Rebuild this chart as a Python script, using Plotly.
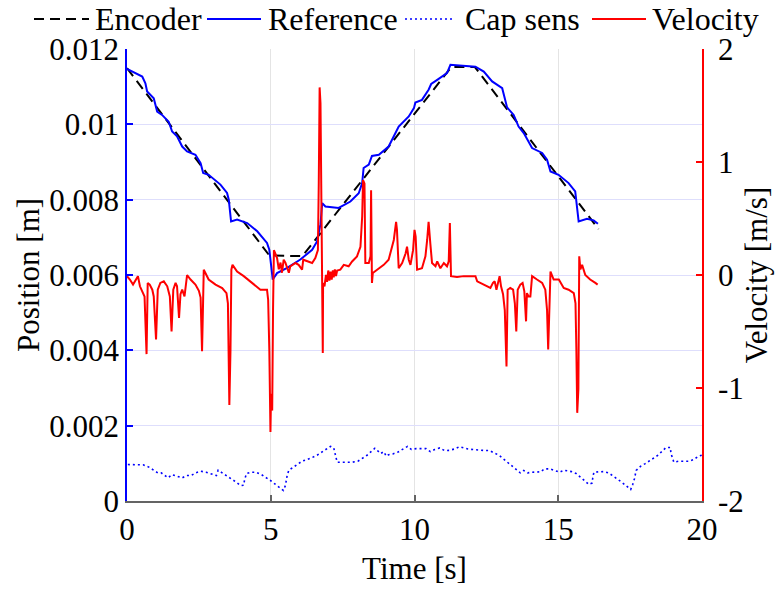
import plotly.graph_objects as go

# ---- Encoder position (breakpoints of the commanded profile) ----
enc_t = [0.0, 4.95, 6.10, 11.28, 12.10, 16.40]
enc_pos = [11.49e-3, 6.52e-3, 6.50e-3, 11.52e-3, 11.52e-3, 7.22e-3]

# ---- Reference position ----
ref_t = [0.00, 0.30, 0.53, 0.64, 0.70, 0.93, 1.05, 1.22, 1.45, 1.57, 1.74, 1.92,
         2.09, 2.38, 2.56, 2.65, 2.84, 3.25, 3.48, 3.54, 3.62, 3.83, 4.18, 4.53,
         4.87, 4.95, 5.07, 5.22, 5.57, 6.03, 6.44, 6.61, 6.69, 6.73, 6.79, 6.90,
         7.36, 7.77, 8.06, 8.18, 8.23, 8.41, 8.52, 8.76, 9.10, 9.28, 9.45, 9.80,
         9.98, 10.03, 10.26, 10.49, 10.58, 10.79, 11.13, 11.25, 12.12, 12.41,
         12.70, 13.05, 13.22, 13.45, 13.62, 13.80, 14.09, 14.44, 14.61, 14.73,
         15.01, 15.36, 15.59, 15.71, 16.00, 16.23, 16.38]
ref_pos = [11.47, 11.36, 11.27, 11.09, 10.87, 10.69, 10.34, 10.25, 10.07, 9.81,
           9.68, 9.41, 9.28, 9.19, 8.97, 8.71, 8.66, 8.40, 8.18, 8.00, 7.42, 7.47,
           7.38, 7.16, 6.85, 6.67, 5.88, 6.05, 6.19, 6.41, 6.67, 6.89, 7.16, 7.35,
           7.91, 7.82, 7.78, 7.95, 8.17, 8.44, 8.84, 8.93, 9.16, 9.19, 9.41, 9.68,
           9.94, 10.21, 10.43, 10.58, 10.65, 10.92, 11.07, 11.18, 11.36, 11.58,
           11.53, 11.40, 11.14, 10.96, 10.45, 10.25, 9.94, 9.77, 9.37, 9.24, 9.06,
           8.75, 8.66, 8.44, 8.22, 7.42, 7.49, 7.45, 7.36]
ref_pos = [p * 1e-3 for p in ref_pos]

# ---- Capacitive sensor position ----
cap_t = [0.03, 0.20, 0.39, 0.56, 0.76, 0.91, 1.07, 1.19, 1.28, 1.43, 1.57, 1.74,
         1.92, 2.07, 2.23, 2.38, 2.56, 2.75, 2.93, 3.11, 3.17, 3.31, 3.48, 3.64,
         3.80, 3.95, 4.06, 4.09, 4.16, 4.32, 4.49, 4.68, 4.86, 4.99, 5.14, 5.30,
         5.44, 5.51, 5.57, 5.63, 5.77, 5.92, 6.09, 6.26, 6.43, 6.61, 6.76, 6.92,
         7.08, 7.19, 7.23, 7.27, 7.31, 7.48, 7.65, 7.83, 8.03, 8.20, 8.35, 8.49,
         8.62, 8.74, 8.82, 8.93, 9.02, 9.10, 9.25, 9.43, 9.59, 9.76, 9.89, 10.06,
         10.24, 10.40, 10.55, 10.70, 10.88, 11.04, 11.21, 11.39, 11.56, 11.71,
         11.86, 12.04, 12.23, 12.43, 12.60, 12.78, 12.94, 13.09, 13.24, 13.39,
         13.54, 13.68, 13.80, 13.94, 14.09, 14.23, 14.38, 14.52, 14.70, 14.88,
         15.05, 15.19, 15.28, 15.46, 15.62, 15.77, 15.91, 16.06, 16.18, 16.20,
         16.24, 16.41, 16.58, 16.75, 16.93, 17.08, 17.24, 17.39, 17.52, 17.59,
         17.65, 17.71, 17.86, 18.01, 18.17, 18.32, 18.47, 18.61, 18.75, 18.90,
         18.92, 18.98, 19.02, 19.19, 19.36, 19.53, 19.71, 19.88, 20.00]
cap_pos = [0.968, 0.968, 0.960, 0.960, 0.900, 0.835, 0.747, 0.747, 0.700, 0.615,
           0.700, 0.660, 0.615, 0.676, 0.676, 0.747, 0.790, 0.765, 0.720, 0.676,
           0.818, 0.747, 0.676, 0.597, 0.500, 0.410, 0.420, 0.570, 0.730, 0.765,
           0.765, 0.700, 0.615, 0.544, 0.455, 0.350, 0.280, 0.410, 0.676, 0.818,
           0.900, 0.968, 1.056, 1.100, 1.150, 1.215, 1.295, 1.380, 1.450, 1.410,
           1.260, 1.145, 1.030, 1.030, 1.030, 1.030, 1.056, 1.135, 1.215, 1.310,
           1.400, 1.320, 1.260, 1.310, 1.190, 1.230, 1.250, 1.300, 1.380, 1.450,
           1.370, 1.390, 1.390, 1.390, 1.310, 1.366, 1.410, 1.340, 1.345, 1.380,
           1.440, 1.410, 1.380, 1.366, 1.350, 1.340, 1.340, 1.280, 1.215, 1.120,
           1.030, 0.940, 0.850, 0.747, 0.810, 0.747, 0.765, 0.765, 0.774, 0.853,
           0.853, 0.810, 0.765, 0.818, 0.810, 0.780, 0.730, 0.640, 0.544, 0.440,
           0.480, 0.615, 0.765, 0.774, 0.780, 0.747, 0.660, 0.570, 0.480, 0.390,
           0.305, 0.440, 0.590, 0.810, 0.920, 0.986, 1.070, 1.130, 1.215, 1.320,
           1.420, 1.420, 1.260, 1.130, 1.030, 1.056, 1.048, 1.056, 1.100, 1.190,
           1.220]
cap_pos = [p * 1e-3 for p in cap_pos]

# ---- Measured velocity ----
vel_t = [0.00, 0.10, 0.21, 0.30, 0.38, 0.45, 0.56, 0.61, 0.68, 0.72, 0.79, 0.88,
         0.93, 1.01, 1.07, 1.16, 1.28, 1.40, 1.49, 1.55, 1.61, 1.69, 1.74, 1.81,
         1.86, 1.92, 2.00, 2.03, 2.09, 2.21, 2.38, 2.50, 2.56, 2.61, 2.67, 2.84,
         3.08, 3.31, 3.46, 3.51, 3.54, 3.56, 3.60, 3.63, 3.67, 3.83, 4.06, 4.41,
         4.64, 4.87, 4.91, 4.95, 4.99, 5.01, 5.05, 5.08, 5.11, 5.16, 5.22, 5.28,
         5.34, 5.39, 5.45, 5.51, 5.63, 5.68, 5.86, 5.97, 6.09, 6.13, 6.26, 6.44,
         6.55, 6.64, 6.67, 6.70, 6.73, 6.75, 6.79, 6.81, 6.82, 6.87, 6.92, 6.96,
         7.00, 7.04, 7.08, 7.12, 7.16, 7.19, 7.23, 7.27, 7.31, 7.42, 7.54, 7.71,
         7.83, 8.00, 8.12, 8.18, 8.21, 8.26, 8.29, 8.41, 8.47, 8.49, 8.52, 8.55,
         8.70, 8.93, 9.10, 9.22, 9.28, 9.36, 9.39, 9.45, 9.57, 9.69, 9.74, 9.80,
         9.86, 9.95, 10.00, 10.04, 10.09, 10.26, 10.38, 10.44, 10.49, 10.55,
         10.61, 10.73, 10.79, 10.90, 11.02, 11.13, 11.19, 11.23, 11.25, 11.27,
         11.48, 11.71, 11.94, 12.12, 12.18, 12.41, 12.64, 12.73, 12.79, 12.85,
         12.96, 13.01, 13.08, 13.14, 13.20, 13.24, 13.33, 13.43, 13.49, 13.54,
         13.59, 13.68, 13.76, 13.82, 13.88, 13.91, 13.97, 14.03, 14.09, 14.26,
         14.44, 14.55, 14.61, 14.65, 14.69, 14.73, 14.84, 15.02, 15.19, 15.36,
         15.54, 15.60, 15.63, 15.66, 15.70, 15.73, 15.77, 15.83, 15.94, 16.11,
         16.29, 16.37]
vel = [-0.01, -0.04, -0.085, -0.04, -0.01, -0.10, -0.16, -0.19, -0.70, -0.07,
       -0.085, -0.13, -0.19, -0.57, -0.13, -0.07, -0.056, -0.10, -0.19, -0.50,
       -0.13, -0.07, -0.10, -0.38, -0.17, -0.13, -0.19, -0.13, 0.00, -0.04,
       -0.085, -0.14, -0.20, -0.675, 0.047, -0.04, -0.085, -0.115, -0.16, -0.25,
       -0.95, -1.15, -0.66, 0.047, 0.09, 0.03, -0.01, -0.085, -0.13, -0.13,
       -0.22, -0.66, -1.39, -1.05, -1.20, -0.30, 0.22, 0.19, 0.15, 0.05, 0.11,
       0.02, 0.135, 0.11, 0.02, 0.077, 0.106, 0.09, 0.047, 0.135, 0.12, 0.106,
       0.15, 0.22, 0.81, 1.66, 1.52, 0.99, 0.22, -0.69, -0.07, -0.10, 0.00,
       -0.06, 0.04, -0.05, 0.03, -0.04, 0.04, -0.02, 0.05, -0.01, 0.04, 0.047,
       0.09, 0.077, 0.12, 0.165, 0.25, 0.52, 0.84, 0.81, 0.106, 0.106, 0.165,
       0.75, -0.07, 0.018, 0.047, 0.09, 0.135, 0.24, 0.31, 0.47, 0.40, 0.06,
       0.106, 0.19, 0.25, 0.135, 0.09, 0.22, 0.40, 0.34, 0.047, 0.06, 0.165,
       0.31, 0.47, 0.28, 0.106, 0.077, 0.12, 0.06, 0.106, 0.077, 0.12, 0.46,
       0.20, -0.01, -0.018, -0.01, -0.01, -0.01, -0.056, -0.085, -0.115, -0.07,
       -0.056, -0.13, -0.01, -0.10, -0.17, -0.31, -0.81, -0.13, -0.115, -0.13,
       -0.25, -0.50, -0.13, -0.085, -0.07, -0.145, -0.41, -0.16, -0.19, -0.19,
       -0.01, -0.04, -0.07, -0.13, -0.31, -0.66, -0.19, 0.03, -0.04, -0.04,
       -0.115, -0.13, -0.16, -0.25, -0.66, -1.22, -1.01, 0.165, 0.05, 0.09, 0.00,
       -0.04, -0.07, -0.085]

FONT = "'Liberation Serif', 'DejaVu Serif', serif"
TICK_SIZE, TITLE_SIZE, LEG_SIZE = 31, 31, 32
BLUE = "rgb(0,0,255)"
RED = "rgb(255,0,0)"

# Trace styles shared by the plot and the legend row above it
STYLES = {
    "Encoder": dict(color="black", width=2, dash="10px,6px"),
    "Reference": dict(color=BLUE, width=2),
    "Cap sens": dict(color=BLUE, width=1.6, dash="2px,3px"),
    "Velocity": dict(color=RED, width=2),
}

fig = go.Figure()
fig.add_trace(go.Scatter(x=enc_t, y=enc_pos, name="Encoder", mode="lines",
                         line=STYLES["Encoder"]))
fig.add_trace(go.Scatter(x=ref_t, y=ref_pos, name="Reference", mode="lines",
                         line=STYLES["Reference"]))
fig.add_trace(go.Scatter(x=cap_t, y=cap_pos, name="Cap sens", mode="lines",
                         line=STYLES["Cap sens"]))
fig.add_trace(go.Scatter(x=vel_t, y=vel, name="Velocity", mode="lines",
                         yaxis="y2", line=STYLES["Velocity"]))

# Single-row legend across the top, drawn in pixel space
W, H = 778, 589
L, R, T, B = 127, 76, 49, 88
PW, PH = W - L - R, H - T - B


def px_x(px):
    return (px - L) / PW


def px_y(py):
    return 1 - (py - T) / PH


legend_row = [  # (name, sample start, sample end, text start) in pixels
    ("Encoder", 34, 89, 93),
    ("Reference", 207, 261, 266),
    ("Cap sens", 405, 455, 463),
    ("Velocity", 592, 646, 650),
]
LEG_Y = 19
shapes, annotations = [], []
for name, s0, s1, tx in legend_row:
    st = STYLES[name]
    shapes.append(dict(type="line", xref="paper", yref="paper",
                       x0=px_x(s0), x1=px_x(s1), y0=px_y(LEG_Y), y1=px_y(LEG_Y),
                       line=dict(color=st["color"], width=st["width"],
                                 dash=st.get("dash", "solid"))))
    annotations.append(dict(text=name, xref="paper", yref="paper",
                            x=px_x(tx), y=px_y(LEG_Y), xanchor="left",
                            yanchor="middle", showarrow=False,
                            font=dict(family=FONT, size=LEG_SIZE, color="black")))

tickfont = dict(family=FONT, size=TICK_SIZE, color="black")
titlefont = dict(family=FONT, size=TITLE_SIZE, color="black")

fig.update_layout(
    width=W, height=H,
    margin=dict(l=L, r=R, t=T, b=B),
    paper_bgcolor="white", plot_bgcolor="white",
    font=dict(family=FONT, size=TICK_SIZE, color="black"),
    showlegend=False,
    shapes=shapes, annotations=annotations,
    xaxis=dict(range=[0, 20], tickvals=[0, 5, 10, 15, 20],
               ticktext=["0", "5", "10", "15", "20"],
               ticks="inside", ticklen=6, tickwidth=1.5,
               tickcolor="rgb(100,100,100)",
               showline=True, linecolor="rgb(100,100,100)", linewidth=1.5,
               showgrid=True, gridcolor="rgb(228,228,228)", gridwidth=1,
               zeroline=False, automargin=False, tickfont=tickfont,
               title=dict(text="Time [s]", standoff=11, font=titlefont)),
    yaxis=dict(range=[0, 0.012],
               tickvals=[0, 0.002, 0.004, 0.006, 0.008, 0.01, 0.012],
               ticktext=["0", "0.002", "0.004", "0.006", "0.008", "0.01", "0.012"],
               ticks="inside", ticklen=6, tickwidth=1.5, tickcolor=BLUE,
               showline=True, linecolor=BLUE, linewidth=1.5,
               showgrid=True, gridcolor="rgb(222,222,252)", gridwidth=1,
               zeroline=False, automargin=False, tickfont=tickfont,
               title=dict(text="Position [m]", standoff=0, font=titlefont)),
    yaxis2=dict(range=[-2, 2], overlaying="y", side="right",
                tickvals=[-2, -1, 0, 1, 2],
                ticktext=["-2", "-1", "0", "1", "2"],
                ticks="inside", ticklen=6, tickwidth=1.5, tickcolor=RED,
                ticklabelstandoff=8,
                showline=True, linecolor=RED, linewidth=1.5,
                showgrid=False, zeroline=False, automargin=False,
                tickfont=tickfont,
                title=dict(text="Velocity [m/s]", standoff=3, font=titlefont)),
)

fig.write_html("out.html")
